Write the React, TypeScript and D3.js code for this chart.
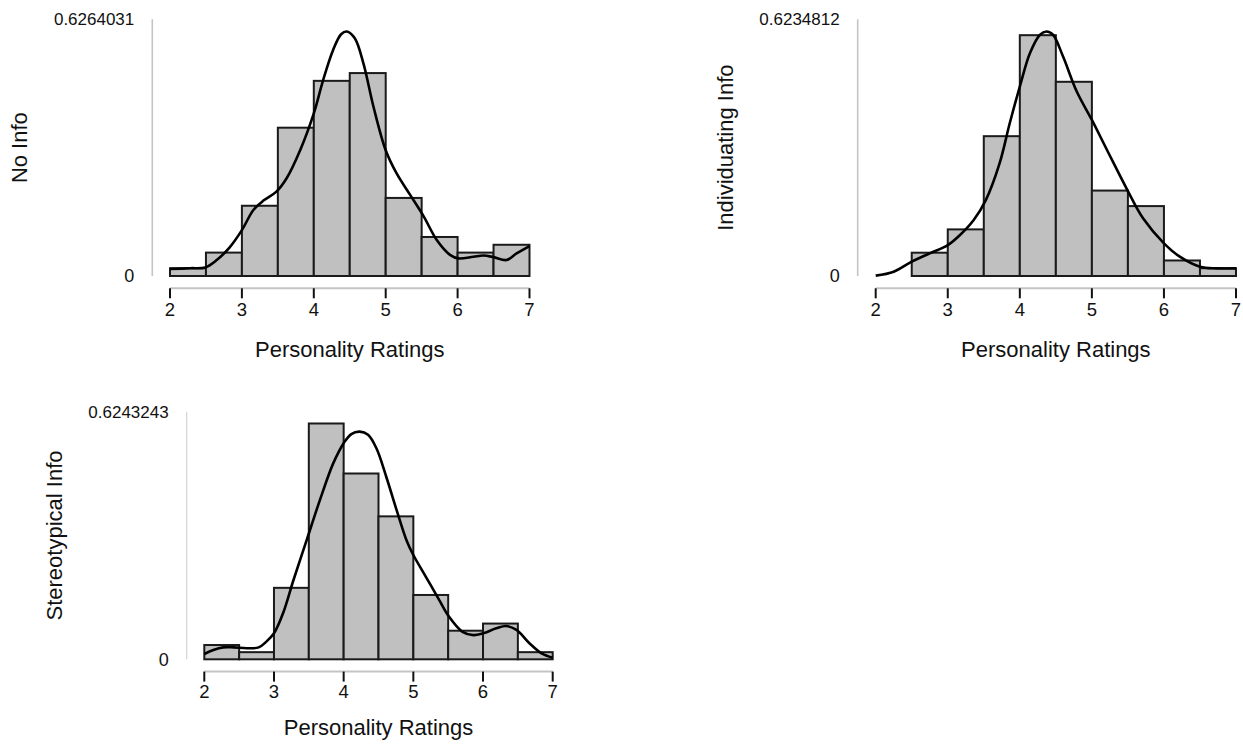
import React from "react";
import * as d3 from "d3";

// Histogram bins (width 0.5) and density estimates per condition
const binEdges = [2, 2.5, 3, 3.5, 4, 4.5, 5, 5.5, 6, 6.5, 7];
const xTicks = [2, 3, 4, 5, 6, 7];

const noInfoDensity = [0.019, 0.0571, 0.1714, 0.3619, 0.4762, 0.4952, 0.1905, 0.0952, 0.0571, 0.0762];
const individuatingDensity = [0, 0.0566, 0.1132, 0.3396, 0.5849, 0.4717, 0.2075, 0.1698, 0.0377, 0.0189];
const stereotypicalDensity = [0.036, 0.018, 0.1802, 0.5946, 0.4685, 0.3604, 0.1622, 0.0721, 0.0901, 0.018];

const noInfoCurve: [number, number][] = [
  [2.0, 0.017], [2.28, 0.019], [2.49, 0.021], [2.65, 0.039], [2.83, 0.07], [3.0, 0.112],
  [3.16, 0.161], [3.3, 0.184], [3.48, 0.206], [3.62, 0.238], [3.81, 0.307], [4.0, 0.397],
  [4.13, 0.478], [4.27, 0.552], [4.38, 0.59], [4.46, 0.5966], [4.57, 0.58], [4.69, 0.519],
  [4.83, 0.413], [5.0, 0.307], [5.15, 0.251], [5.34, 0.198], [5.53, 0.145], [5.71, 0.088],
  [5.9, 0.051], [6.01, 0.043], [6.22, 0.047], [6.36, 0.05], [6.5, 0.046], [6.68, 0.039],
  [6.82, 0.055], [7.0, 0.073],
];
const individuatingCurve: [number, number][] = [
  [2.0, 0.001], [2.25, 0.0105], [2.5, 0.035], [2.75, 0.055], [3.0, 0.075], [3.17, 0.0996],
  [3.36, 0.136], [3.53, 0.185], [3.72, 0.274], [3.86, 0.371], [4.0, 0.46], [4.14, 0.541],
  [4.28, 0.586], [4.37, 0.5938], [4.46, 0.586], [4.6, 0.533], [4.79, 0.448], [5.0, 0.379],
  [5.21, 0.306], [5.48, 0.213], [5.71, 0.14], [6.0, 0.0794], [6.22, 0.047], [6.5, 0.0227],
  [6.73, 0.0186], [7.0, 0.0186],
];
const stereotypicalCurve: [number, number][] = [
  [2.0, 0.0134], [2.13, 0.0235], [2.27, 0.03], [2.42, 0.03], [2.61, 0.028], [2.78, 0.03],
  [2.89, 0.0445], [3.0, 0.0655], [3.13, 0.116], [3.28, 0.2], [3.47, 0.301], [3.66, 0.402],
  [3.85, 0.494], [4.0, 0.545], [4.11, 0.568], [4.23, 0.574], [4.35, 0.566], [4.47, 0.532],
  [4.61, 0.461], [4.76, 0.376], [4.9, 0.301], [5.0, 0.263], [5.18, 0.208], [5.37, 0.15],
  [5.51, 0.108], [5.7, 0.07], [5.86, 0.061], [6.0, 0.0655], [6.19, 0.078], [6.33, 0.084],
  [6.48, 0.074], [6.67, 0.04], [6.84, 0.015], [7.0, 0.004],
];

const yMaxLabels = ["0.6264031", "0.6234812", "0.6243243"];
const panelTitles = ["No Info", "Individuating Info", "Stereotypical Info"];
const xTitle = "Personality Ratings";

type Frame = {
  axisX: number; x0: number; x1: number; top: number; zero: number;
  tickLabelDy: number; titleDy: number; axisColor: string; axisWidth: number;
};

const frames: Frame[] = [
  { axisX: 152.3, x0: 170, x1: 529.5, top: 19.3, zero: 276, tickLabelDy: 40, titleDy: 81, axisColor: "#c4c4c4", axisWidth: 1.6 },
  { axisX: 857.7, x0: 875.7, x1: 1236, top: 19.3, zero: 276, tickLabelDy: 40, titleDy: 81, axisColor: "#c4c4c4", axisWidth: 1.6 },
  { axisX: 186.7, x0: 204.3, x1: 552.7, top: 411.7, zero: 659.3, tickLabelDy: 38.5, titleDy: 76, axisColor: "#cfcfcf", axisWidth: 1.1 },
];

const FONT = "'Liberation Sans', Arial, Helvetica, sans-serif";

function Panel({ frame, density, curve, yMaxLabel, title }: {
  frame: Frame; density: number[]; curve: [number, number][]; yMaxLabel: string; title: string;
}) {
  const x = d3.scaleLinear().domain([2, 7]).range([frame.x0, frame.x1]);
  const y = d3.scaleLinear().domain([0, +yMaxLabel]).range([frame.zero, frame.top]);
  const line = d3.line<[number, number]>()
    .x((d) => x(d[0]))
    .y((d) => y(d[1]))
    .curve(d3.curveCatmullRom.alpha(0.5));
  const axisY = frame.zero + 12.3;
  const midY = (frame.top + frame.zero) / 2;
  return (
    <g>
      {/* y axis */}
      <line x1={frame.axisX} x2={frame.axisX} y1={y(+yMaxLabel)} y2={y(0)} stroke={frame.axisColor} strokeWidth={frame.axisWidth} />
      <text x={frame.axisX - 18} y={y(+yMaxLabel)} dy="0.35em" textAnchor="end" fontSize={17} fontFamily={FONT} fill="#111">{yMaxLabel}</text>
      <text x={frame.axisX - 18} y={y(0)} dy="0.35em" textAnchor="end" fontSize={18} fontFamily={FONT} fill="#111">0</text>
      <text transform={`translate(${frame.axisX - 125},${midY}) rotate(-90)`} textAnchor="middle" fontSize={22} fontFamily={FONT} fill="#111">{title}</text>

      {/* bars */}
      {density.map((d, i) =>
        d > 0 ? (
          <rect key={i} x={x(binEdges[i])} y={y(d)} width={x(binEdges[i + 1]) - x(binEdges[i])} height={y(0) - y(d)}
            fill="#c0c0c0" stroke="#1a1a1a" strokeWidth={2} />
        ) : null
      )}

      {/* density curve */}
      <path d={line(curve) ?? ""} fill="none" stroke="#000" strokeWidth={2.6} strokeLinejoin="round" />

      {/* x axis */}
      <line x1={x(2)} x2={x(7)} y1={axisY} y2={axisY} stroke="#c4c4c4" strokeWidth={2} />
      {xTicks.map((t) => (
        <g key={t}>
          <line x1={x(t)} x2={x(t)} y1={axisY} y2={axisY + 10} stroke="#111" strokeWidth={2} />
          <text x={x(t)} y={frame.zero + frame.tickLabelDy} textAnchor="middle" fontSize={18.5} fontFamily={FONT} fill="#111">{t}</text>
        </g>
      ))}
      <text x={(x(2) + x(7)) / 2} y={frame.zero + frame.titleDy} textAnchor="middle" fontSize={22} fontFamily={FONT} fill="#111">{xTitle}</text>
    </g>
  );
}

export default function App() {
  const densities = [noInfoDensity, individuatingDensity, stereotypicalDensity];
  const curves = [noInfoCurve, individuatingCurve, stereotypicalCurve];
  return (
    <svg width={1243} height={745} style={{ position: "absolute", left: 0, top: 0, display: "block", background: "#fff" }}>
      {frames.map((f, i) => (
        <Panel key={i} frame={f} density={densities[i]} curve={curves[i]} yMaxLabel={yMaxLabels[i]} title={panelTitles[i]} />
      ))}
    </svg>
  );
}
